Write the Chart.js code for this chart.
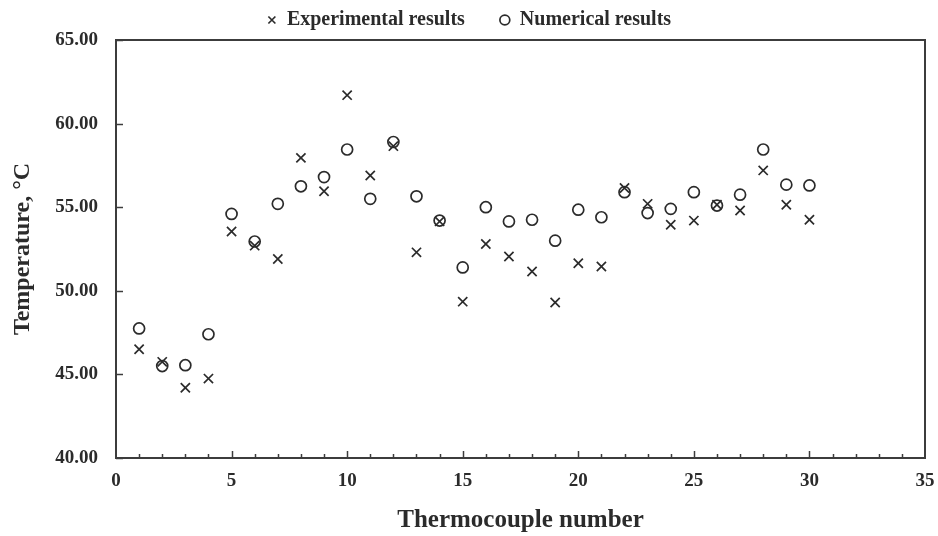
<!DOCTYPE html>
<html>
<head>
<meta charset="utf-8">
<script src="https://cdn.jsdelivr.net/npm/chart.js@4/dist/chart.umd.min.js"></script>
<style>
  html, body { margin: 0; padding: 0; background: #fff; }
  #wrap { width: 938px; height: 536px; }
</style>
</head>
<body>
<div id="wrap"><canvas id="scatterChart" width="938" height="536"></canvas></div>
<script>
// thermocouple numbers and the temperatures
const thermocouples = [1, 2, 3, 4, 5, 6, 7, 8, 9, 10, 11, 12, 13, 14, 15,
    16, 17, 18, 19, 20, 21, 22, 23, 24, 25, 26, 27, 28, 29, 30]
const experimental = [46.5, 45.75, 44.2, 44.75, 53.55, 52.7, 51.9, 57.95, 55.95, 61.7,
    56.9, 58.65, 52.3, 54.15, 49.35, 52.8, 52.05, 51.15, 49.3, 51.65,
    51.45, 56.15, 55.2, 53.95, 54.2, 55.15, 54.8, 57.2, 55.15, 54.25]
const numerical = [47.75, 45.5, 45.55, 47.4, 54.6, 52.95, 55.2, 56.25, 56.8, 58.45,
    55.5, 58.9, 55.65, 54.2, 51.4, 55.0, 54.15, 54.25, 53.0, 54.85,
    54.4, 55.9, 54.65, 54.9, 55.9, 55.1, 55.75, 58.45, 56.35, 56.3]
const xTicks = [0, 5, 10, 15, 20, 25, 30, 35]
const yTicks = [40, 45, 50, 55, 60, 65]

const ink = '#2b2b2b'
const serif = "'Liberation Serif', 'Times New Roman', serif"

function toPoints(values) {
    let pts = []
    for (let i = 0; i < thermocouples.length; i++) {
        pts.push({x: thermocouples[i], y: values[i]})
    }
    return pts
}

// box around the plot plus small inward tick marks
const frameTicks = {
    id: 'frameTicks',
    beforeDatasetsDraw(chart) {
        const {ctx, chartArea: a, scales: {x, y}} = chart
        ctx.save()
        ctx.strokeStyle = '#3c3c3c'
        ctx.lineWidth = 1.5
        for (let v = 1; v < xTicks[xTicks.length - 1]; v++) {
            const px = Math.round(x.getPixelForValue(v)) + 0.5
            const len = v % 5 === 0 ? 7 : 4
            ctx.beginPath()
            ctx.moveTo(px, a.bottom)
            ctx.lineTo(px, a.bottom - len)
            ctx.stroke()
        }
        for (let v of yTicks) {
            const py = Math.round(y.getPixelForValue(v)) + 0.5
            ctx.beginPath()
            ctx.moveTo(a.left, py)
            ctx.lineTo(a.left + 7, py)
            ctx.stroke()
        }
        ctx.lineWidth = 2
        ctx.strokeRect(a.left, a.top, a.right - a.left, a.bottom - a.top)
        ctx.restore()
    }
}

const data = {
    datasets: [{
        label: 'Experimental results',
        data: toPoints(experimental),
        pointStyle: 'crossRot',
        pointRadius: 6.5,
        borderColor: ink,
        backgroundColor: ink,
        borderWidth: 1.7,
    }, {
        label: 'Numerical results',
        data: toPoints(numerical),
        pointStyle: 'circle',
        pointRadius: 5.5,
        borderColor: ink,
        backgroundColor: 'rgba(0,0,0,0)',
        borderWidth: 1.7,
    }]
}

const config = {
    type: 'scatter',
    data: data,
    options: {
        responsive: false,
        animation: false,
        layout: {padding: {top: -25, right: 0, left: 0, bottom: 0}},
        plugins: {
            tooltip: {enabled: false},
            legend: {
                position: 'top',
                labels: {
                    usePointStyle: true,
                    boxWidth: 10,
                    boxHeight: 7,
                    padding: 35,
                    color: ink,
                    font: {family: serif, size: 20, weight: 'bold', lineHeight: 1},
                }
            }
        },
        scales: {
            x: {
                type: 'linear',
                min: 0,
                max: 35,
                afterFit: function (scale) {
                    scale.height = 78
                    scale.paddingRight = 13
                },
                afterBuildTicks: function (scale) {
                    scale.ticks = xTicks.map(v => ({value: v}))
                },
                grid: {display: false, drawTicks: false},
                border: {display: false},
                ticks: {
                    padding: 12,
                    color: ink,
                    font: {family: serif, size: 19, weight: 'bold'},
                },
                title: {
                    display: true,
                    text: 'Thermocouple number',
                    color: ink,
                    padding: {top: 0, bottom: 0},
                    font: {family: serif, size: 25, weight: 'bold'},
                }
            },
            y: {
                min: 40,
                max: 65,
                afterFit: function (scale) { scale.width = 116 },
                afterBuildTicks: function (scale) {
                    scale.ticks = yTicks.map(v => ({value: v}))
                },
                grid: {display: false, drawTicks: false},
                border: {display: false},
                ticks: {
                    padding: 18,
                    color: ink,
                    font: {family: serif, size: 19, weight: 'bold'},
                    callback: function (value) { return value.toFixed(2) },
                },
                title: {
                    display: true,
                    text: 'Temperature, °C',
                    color: ink,
                    padding: {top: 8, bottom: 0},
                    font: {family: serif, size: 24, weight: 'bold'},
                }
            }
        }
    },
    plugins: [frameTicks]
}

new Chart(document.getElementById('scatterChart'), config)
</script>
</body>
</html>
